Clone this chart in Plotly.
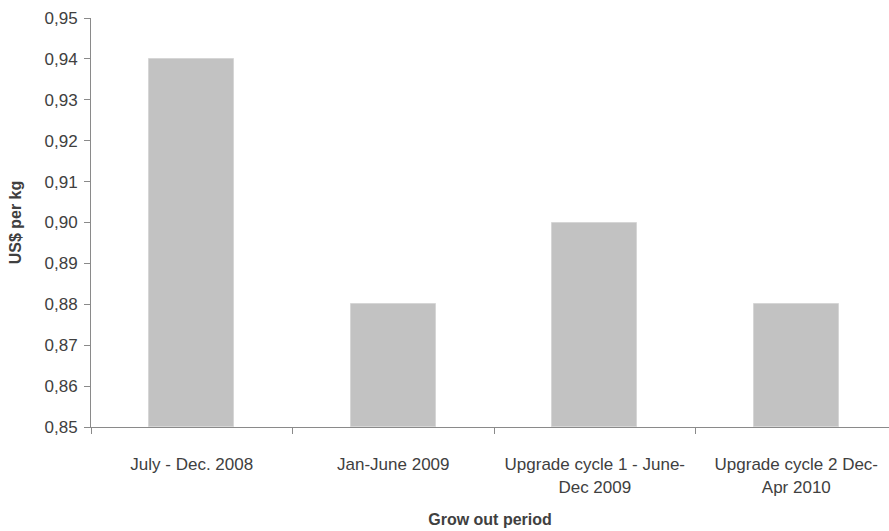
import plotly.graph_objects as go

# Grow-out cost per period
periods = [
    "July - Dec. 2008",
    "Jan-June 2009",
    "Upgrade cycle 1 - June-<br>Dec 2009",
    "Upgrade cycle 2 Dec-<br>Apr 2010",
]
cost_usd_per_kg = [0.94, 0.88, 0.90, 0.88]
y_ticks = [0.85, 0.86, 0.87, 0.88, 0.89, 0.90, 0.91, 0.92, 0.93, 0.94, 0.95]

FONT = "Liberation Sans Narrow, Liberation Sans, Arial, sans-serif"
TEXT = "#404040"
AXIS = "#8a8a8a"

x_pos = list(range(len(periods)))

fig = go.Figure(
    go.Bar(
        x=x_pos,
        y=[v - y_ticks[0] for v in cost_usd_per_kg],
        base=y_ticks[0],
        width=0.42,
        marker=dict(color="#c2c2c2", line=dict(color="#d6d6d6", width=1)),
        hoverinfo="skip",
    )
)

fig.update_layout(
    width=889,
    height=531,
    margin=dict(l=91, r=0, t=18, b=104),
    paper_bgcolor="white",
    plot_bgcolor="white",
    separators=",.",
    showlegend=False,
    font=dict(family=FONT, size=16, color=TEXT),
    bargap=0,
)

fig.update_xaxes(
    range=[-0.5, 3.46],
    tickmode="array",
    tickvals=x_pos,
    ticktext=periods,
    ticks="",
    ticklabelstandoff=22,
    showgrid=False,
    zeroline=False,
    showline=True,
    linecolor=AXIS,
    linewidth=1,
    tickfont=dict(size=17, color=TEXT),
    minor=dict(tick0=0.5, dtick=1, ticks="outside", ticklen=6, tickcolor=AXIS, showgrid=False),
    title=dict(text="<b>Grow out period</b>", font=dict(size=16, color=TEXT), standoff=18),
)

fig.update_yaxes(
    range=[y_ticks[0], y_ticks[-1]],
    tickmode="array",
    tickvals=y_ticks,
    tickformat=".2f",
    ticks="outside",
    ticklen=6,
    tickcolor=AXIS,
    ticklabelstandoff=3,
    showgrid=False,
    zeroline=False,
    showline=True,
    linecolor=AXIS,
    linewidth=1,
    tickfont=dict(size=17, color=TEXT),
    title=dict(text="<b>US$ per kg</b>", font=dict(size=16, color=TEXT), standoff=18),
)

fig.write_html("out.html")
